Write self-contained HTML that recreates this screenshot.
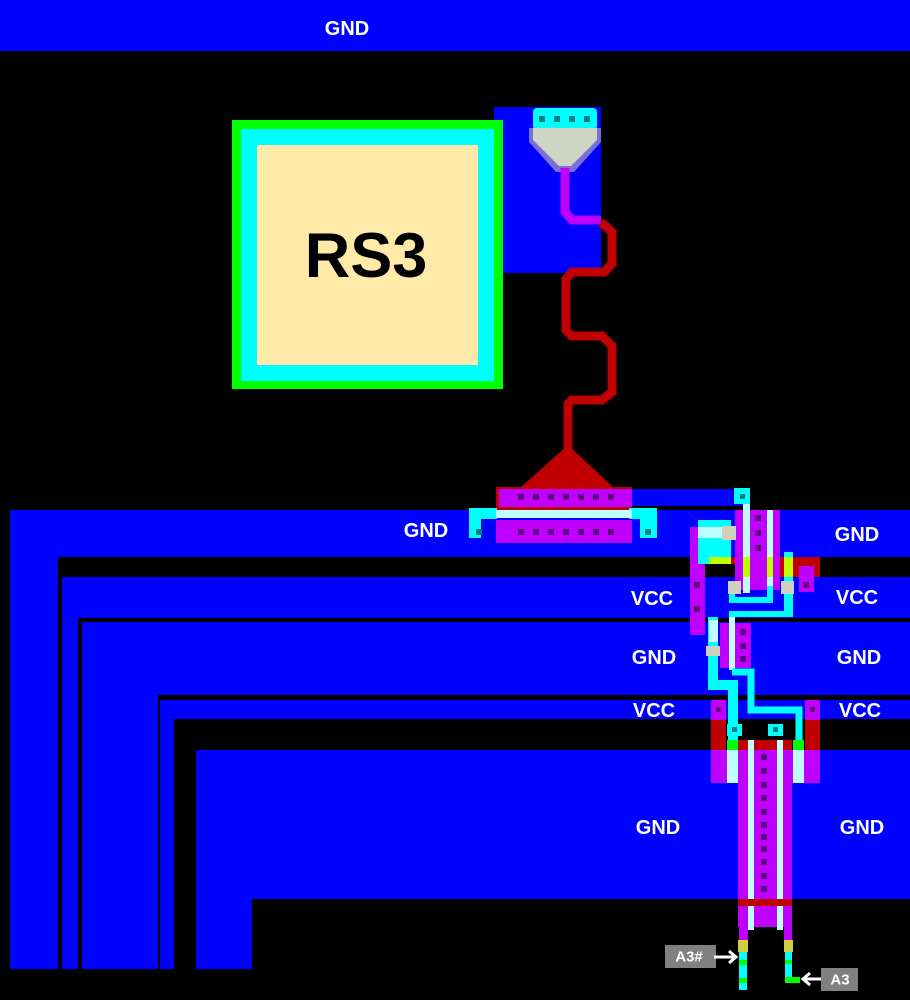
<!DOCTYPE html>
<html><head><meta charset="utf-8"><style>
html,body{margin:0;padding:0;background:#000;}
svg{display:block}
text{font-family:"Liberation Sans",sans-serif;font-weight:bold;fill:#fff;text-anchor:middle;dominant-baseline:central}
</style></head><body>
<svg width="910" height="1000" viewBox="0 0 910 1000" xmlns="http://www.w3.org/2000/svg">
<rect width="910" height="1000" fill="#000"/>
<rect x="0" y="0" width="910" height="51" fill="#0000ff"/>
<text x="347" y="29" font-size="20">GND</text>
<rect x="10" y="510" width="900" height="47" fill="#0000ff"/>
<rect x="10" y="510" width="48" height="459" fill="#0000ff"/>
<rect x="62" y="577" width="848" height="41" fill="#0000ff"/>
<rect x="62" y="577" width="16" height="392" fill="#0000ff"/>
<rect x="82" y="622" width="828" height="73" fill="#0000ff"/>
<rect x="82" y="622" width="76" height="347" fill="#0000ff"/>
<rect x="160" y="700" width="750" height="19" fill="#0000ff"/>
<rect x="160" y="700" width="14" height="269" fill="#0000ff"/>
<rect x="196" y="750" width="714" height="149" fill="#0000ff"/>
<rect x="196" y="750" width="56" height="219" fill="#0000ff"/>
<rect x="494" y="107" width="107" height="166" fill="#0000ff"/>
<rect x="232" y="120" width="271" height="269" fill="#00ff00"/>
<rect x="241" y="129" width="253" height="252" fill="#00ffff"/>
<rect x="257" y="145" width="221" height="220" fill="#ffeaaa"/>
<text x="366" y="256" font-size="63" style="fill:#000">RS3</text>
<rect x="533" y="108" width="64" height="22" rx="4" fill="#00ffff"/>
<rect x="539" y="116" width="6" height="6" fill="#008080"/><rect x="554" y="116" width="6" height="6" fill="#008080"/><rect x="569" y="116" width="6" height="6" fill="#008080"/><rect x="584" y="116" width="6" height="6" fill="#008080"/>
<polygon points="529,128 601,128 601,142 574,172 556,172 529,142" fill="#7b6fd6"/>
<polygon points="533,128 597,128 597,140 571,166 559,166 533,140" fill="#d0d4c4"/>
<polyline points="565,168 565,212 572,220 601,220" fill="none" stroke="#c000ff" stroke-width="9"/>
<polyline points="601,222 612,232 612,264 604,272 572,272 566,279 566,330 572,336 602,336 612,346 612,392 602,400 572,400 568,404 568,450" fill="none" stroke="#c00000" stroke-width="9"/>
<polygon points="568,445 520,488 614,488" fill="#c00000"/>
<rect x="496" y="487" width="136" height="23" fill="#c00000"/>
<rect x="499" y="489" width="133" height="18" fill="#c000ff"/>
<rect x="632" y="489" width="118" height="17" fill="#0000ff"/>
<rect x="496" y="520" width="136" height="23" fill="#c000ff"/>
<rect x="469" y="508" width="28" height="11" fill="#00ffff"/>
<rect x="469" y="508" width="12" height="30" fill="#00ffff"/>
<rect x="629" y="508" width="28" height="11" fill="#00ffff"/>
<rect x="640" y="508" width="17" height="30" fill="#00ffff"/>
<rect x="496" y="510" width="136" height="8" fill="#c0ffff"/>
<g fill="#600080">
<rect x="518" y="494" width="6" height="6"/><rect x="533" y="494" width="6" height="6"/><rect x="548" y="494" width="6" height="6"/><rect x="563" y="494" width="6" height="6"/><rect x="578" y="494" width="6" height="6"/><rect x="593" y="494" width="6" height="6"/><rect x="608" y="494" width="6" height="6"/>
<rect x="518" y="529" width="6" height="6"/><rect x="533" y="529" width="6" height="6"/><rect x="548" y="529" width="6" height="6"/><rect x="563" y="529" width="6" height="6"/><rect x="578" y="529" width="6" height="6"/><rect x="593" y="529" width="6" height="6"/><rect x="608" y="529" width="6" height="6"/>
</g>
<rect x="476" y="529" width="6" height="6" fill="#008080"/><rect x="645" y="529" width="6" height="6" fill="#008080"/>
<rect x="734" y="488" width="16" height="16" fill="#00ffff"/><rect x="740" y="494" width="5" height="5" fill="#008080"/>
<rect x="690" y="557" width="130" height="20" fill="#c00000"/>
<rect x="705" y="564" width="30" height="13" fill="#000"/>
<rect x="735" y="510" width="45" height="80" fill="#c000ff"/>
<rect x="690" y="527" width="15" height="108" fill="#c000ff"/>
<rect x="799" y="566" width="15" height="26" fill="#c000ff"/>
<rect x="698" y="520" width="33" height="44" fill="#00ffff"/>
<rect x="709" y="557" width="22" height="7" fill="#c0ff00"/>
<rect x="698" y="527" width="35" height="11" fill="#c0ffff"/>
<rect x="722" y="526" width="14" height="14" fill="#d0d0c0"/>
<rect x="743" y="504" width="7" height="89" fill="#c0ffff"/>
<rect x="743" y="557" width="7" height="20" fill="#c0ff00"/>
<rect x="767" y="510" width="6" height="82" fill="#c0ffff"/>
<rect x="767" y="557" width="6" height="20" fill="#c0ff00"/>
<g fill="#600080"><rect x="755" y="515" width="6" height="6"/><rect x="755" y="530" width="6" height="6"/><rect x="755" y="545" width="6" height="6"/><rect x="694" y="582" width="6" height="6"/><rect x="694" y="606" width="6" height="6"/><rect x="803" y="582" width="6" height="6"/></g>
<polyline points="732,582 732,600 770,600 770,586" fill="none" stroke="#00ffff" stroke-width="6"/>
<rect x="784" y="552" width="9" height="65" fill="#00ffff"/>
<rect x="784" y="557" width="9" height="20" fill="#c0ff00"/>
<rect x="729" y="611" width="64" height="6" fill="#00ffff"/>
<rect x="728" y="581" width="13" height="13" fill="#d0d0c0"/><rect x="781" y="581" width="13" height="13" fill="#d0d0c0"/>
<rect x="720" y="623" width="31" height="45" fill="#c000ff"/>
<g fill="#600080"><rect x="740" y="629" width="6" height="6"/><rect x="740" y="643" width="6" height="6"/><rect x="740" y="656" width="6" height="6"/></g>
<polyline points="713,617 713,685 733,685 733,750" fill="none" stroke="#00ffff" stroke-width="10"/>
<rect x="709" y="620" width="9" height="22" fill="#c0ffff"/>
<rect x="706" y="646" width="14" height="10" fill="#d0d0c0"/>
<rect x="729" y="617" width="6" height="53" fill="#c0ffff"/>
<polyline points="732,672 751,672 751,710 799,710 799,750" fill="none" stroke="#00ffff" stroke-width="7"/>
<rect x="711" y="700" width="15" height="50" fill="#c00000"/>
<rect x="805" y="700" width="15" height="50" fill="#c00000"/>
<rect x="711" y="700" width="15" height="20" fill="#c000ff"/><rect x="805" y="700" width="15" height="20" fill="#c000ff"/>
<rect x="716" y="707" width="5" height="5" fill="#600080"/><rect x="810" y="707" width="5" height="5" fill="#600080"/>
<rect x="727" y="724" width="15" height="12" fill="#00ffff"/><rect x="768" y="724" width="15" height="12" fill="#00ffff"/>
<rect x="732" y="727" width="5" height="5" fill="#008080"/><rect x="773" y="727" width="5" height="5" fill="#008080"/>
<rect x="738" y="740" width="54" height="10" fill="#c00000"/>
<rect x="727" y="740" width="11" height="10" fill="#00ff00"/><rect x="793" y="740" width="11" height="10" fill="#00ff00"/>
<rect x="711" y="750" width="109" height="33" fill="#c000ff"/>
<rect x="727" y="750" width="11" height="33" fill="#c0ffff"/><rect x="793" y="750" width="11" height="33" fill="#c0ffff"/>
<rect x="738" y="750" width="54" height="177" fill="#c000ff"/>
<rect x="748" y="740" width="6" height="190" fill="#c0ffff"/><rect x="777" y="740" width="6" height="190" fill="#c0ffff"/>
<rect x="738" y="899" width="54" height="7" fill="#c00000"/>
<g fill="#600080">
<rect x="761" y="754" width="6" height="6"/><rect x="761" y="768" width="6" height="6"/><rect x="761" y="782" width="6" height="6"/><rect x="761" y="795" width="6" height="6"/><rect x="761" y="809" width="6" height="6"/><rect x="761" y="822" width="6" height="6"/><rect x="761" y="834" width="6" height="6"/><rect x="761" y="846" width="6" height="6"/><rect x="761" y="859" width="6" height="6"/><rect x="761" y="873" width="6" height="6"/><rect x="761" y="886" width="6" height="6"/>
</g>
<rect x="739" y="925" width="9" height="15" fill="#c000ff"/><rect x="784" y="925" width="8" height="15" fill="#c000ff"/>
<rect x="738" y="940" width="10" height="12" fill="#d0d040"/><rect x="784" y="940" width="9" height="12" fill="#d0d040"/>
<rect x="739" y="952" width="8" height="38" fill="#00ffff"/>
<rect x="739" y="960" width="8" height="5" fill="#00ff00"/><rect x="739" y="978" width="8" height="5" fill="#00ff00"/>
<rect x="785" y="952" width="7" height="30" fill="#00ffff"/>
<rect x="785" y="960" width="7" height="4" fill="#00ff00"/>
<rect x="785" y="977" width="15" height="6" fill="#00ff00"/>
<rect x="665" y="945" width="51" height="23" fill="#808080"/>
<text x="689" y="957" font-size="15">A3#</text>
<line x1="714" y1="957" x2="734" y2="957" stroke="#fff" stroke-width="3"/>
<polyline points="729,951 736,957 729,963" fill="none" stroke="#fff" stroke-width="3"/>
<rect x="821" y="968" width="37" height="23" fill="#808080"/>
<text x="840" y="980" font-size="15">A3</text>
<line x1="821" y1="979" x2="804" y2="979" stroke="#fff" stroke-width="3"/>
<polyline points="810,973 803,979 810,985" fill="none" stroke="#fff" stroke-width="3"/>
<g font-size="20">
<text x="426" y="531">GND</text><text x="857" y="535">GND</text>
<text x="652" y="599">VCC</text><text x="857" y="598">VCC</text>
<text x="654" y="658">GND</text><text x="859" y="658">GND</text>
<text x="654" y="711">VCC</text><text x="860" y="711">VCC</text>
<text x="658" y="828">GND</text><text x="862" y="828">GND</text>
</g>
</svg>
</body></html>
